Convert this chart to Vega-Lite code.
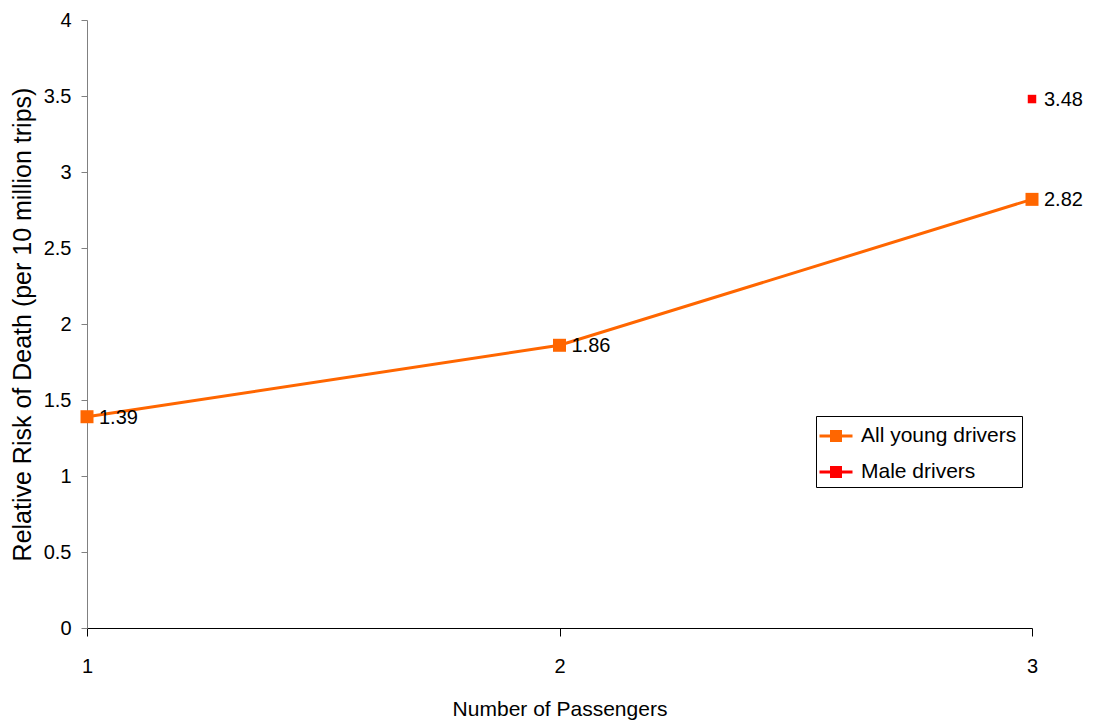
{
  "$schema": "https://vega.github.io/schema/vega-lite/v6.json",
  "width": 945,
  "height": 608,
  "autosize": {"type": "none"},
  "padding": {"left": 87, "top": 20, "right": 61, "bottom": 98},
  "background": "white",
  "config": {
    "font": "Liberation Sans",
    "view": {"stroke": null},
    "axis": {"grid": false, "labelFont": "Liberation Sans", "titleFont": "Liberation Sans", "labelColor": "#000", "titleColor": "#000", "titleFontWeight": "normal"}
  },
  "data": {
    "values": [
      {"Passengers": 1, "Risk": 1.39, "Series": "All young drivers"},
      {"Passengers": 2, "Risk": 1.86, "Series": "All young drivers"},
      {"Passengers": 3, "Risk": 2.82, "Series": "All young drivers"},
      {"Passengers": 3, "Risk": 3.48, "Series": "Male drivers"}
    ]
  },
  "encoding": {
    "x": {
      "field": "Passengers", "type": "quantitative",
      "scale": {"domain": [1, 3], "nice": false, "zero": false},
      "axis": {"values": [1, 2, 3], "tickCount": 10, "tickMinStep": 0.1, "format": "d", "title": "Number of Passengers", "tickSize": 8, "tickColor": "#000", "domainColor": "#000", "labelFontSize": 20, "labelPadding": 20, "labelOverlap": false, "titleFontSize": 21, "titlePadding": 22, "labelFlush": false}
    },
    "y": {
      "field": "Risk", "type": "quantitative",
      "scale": {"domain": [0, 4], "nice": false},
      "axis": {"values": [0, 0.5, 1, 1.5, 2, 2.5, 3, 3.5, 4], "format": ".1~f", "title": "Relative Risk of Death (per 10 million trips)", "tickSize": 6, "tickColor": "#808080", "domainColor": "#808080", "labelFontSize": 20, "labelPadding": 10, "labelOverlap": false, "titleFontSize": 25, "titlePadding": 8}
    }
  },
  "layer": [
    {
      "transform": [{"filter": "datum.Series === 'All young drivers'"}],
      "mark": {"type": "line", "color": "#FF6600", "strokeWidth": 3}
    },
    {
      "transform": [{"filter": "datum.Series === 'All young drivers'"}],
      "mark": {"type": "point", "shape": "square", "filled": true, "opacity": 1, "size": 169},
      "encoding": {
        "color": {
          "field": "Series", "type": "nominal",
          "scale": {"domain": ["All young drivers", "Male drivers"], "range": ["#FF6600", "#FF0000"]},
          "legend": {
            "title": null, "orient": "none", "legendX": 729, "legendY": 396,
            "strokeColor": "#000", "fillColor": "#fff", "padding": 5, "rowPadding": 11,
            "symbolType": "M-1.1,-0.1H1.1V0.1H-1.1Z M-0.4,-0.4H0.4V0.4H-0.4Z",
            "symbolSize": 900, "symbolStrokeWidth": 0, "symbolOpacity": 1,
            "labelFontSize": 21, "labelFont": "Liberation Sans", "labelColor": "#000", "labelLimit": 300, "labelOffset": 10
          }
        }
      }
    },
    {
      "transform": [{"filter": "datum.Series === 'Male drivers'"}],
      "mark": {"type": "point", "shape": "square", "filled": true, "opacity": 1, "size": 72},
      "encoding": {
        "color": {"field": "Series", "type": "nominal"}
      }
    },
    {
      "mark": {"type": "text", "align": "left", "baseline": "middle", "dx": 12, "dy": 1, "fontSize": 20, "font": "Liberation Sans", "color": "#000"},
      "encoding": {"text": {"field": "Risk", "type": "quantitative", "format": ".2f"}}
    }
  ]
}
